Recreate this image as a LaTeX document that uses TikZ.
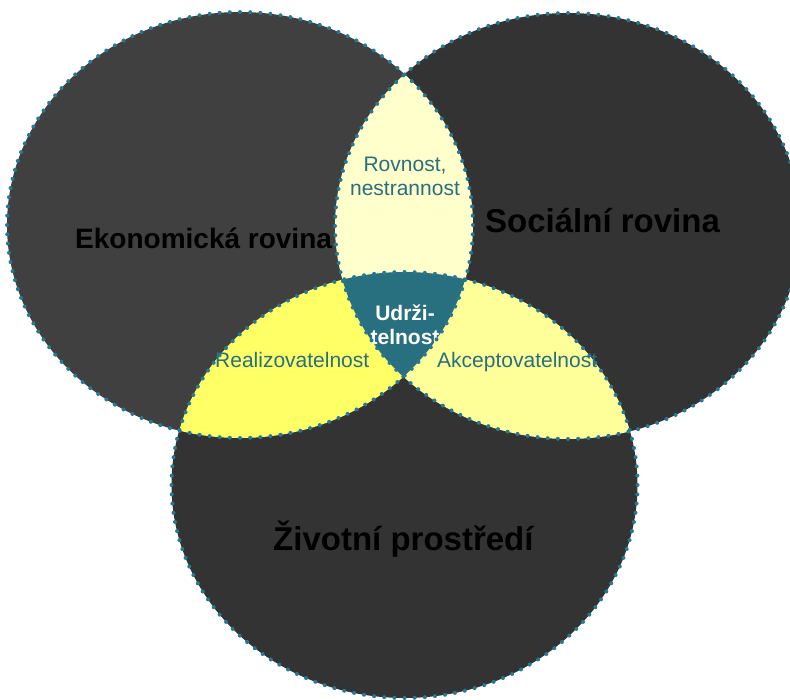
\documentclass[tikz,border=0pt]{standalone}
\usepackage{fontspec}
\setmainfont{Liberation Sans}
\usetikzlibrary{positioning}
\definecolor{darkA}{HTML}{404040}
\definecolor{darkB}{HTML}{333333}
\definecolor{tealc}{HTML}{286F80}
\definecolor{dotc}{HTML}{237A96}
\definecolor{yelL}{HTML}{FFFF66}
\definecolor{yelR}{HTML}{FFFF99}
\definecolor{yelT}{HTML}{FFFFCC}
\tikzstyle{bigtext} = [inner sep=0pt, text=black, font=\bfseries]
\tikzstyle{lenstext} = [inner sep=0pt, text=tealc, align=center, font=\fontsize{21}{24}\selectfont]
\newcommand{\ekonpath}{(240,225) ellipse [x radius=233pt, y radius=213pt]}
\newcommand{\socpath}{(568,226) ellipse [x radius=233pt, y radius=213pt]}
\newcommand{\zivpath}{(404.5,485) ellipse [x radius=233pt, y radius=213pt]}
% dotted rim of a plane centred at (#1,#2)
\newcommand{\dotrim}[2]{\foreach \a in {0,2.5,...,357.5} \fill [dotc] ({#1+233*cos(\a)},{#2+213*sin(\a)}) circle (2pt);}

\begin{document}
\begin{tikzpicture}[x=1pt, y=-1pt]
			\useasboundingbox (0,0) rectangle (790,699);
			% three planes
			\fill [darkA] \ekonpath;
			\fill [darkB] \socpath;
			\fill [darkB] \zivpath;
			
			\node [bigtext, anchor=base west, font=\fontsize{28}{30}\selectfont\bfseries] (ekon) at (75,248) {Ekonomická rovina};
			\node [bigtext, anchor=base west, font=\fontsize{33}{36}\selectfont\bfseries] (soc) at (485,232) {Sociální rovina};
			\node [bigtext, anchor=base west, font=\fontsize{33}{36}\selectfont\bfseries] (ziv) at (273,550) {Životní prostředí};
			
			% overlaps
			\begin{scope}
				\clip \ekonpath;
				\fill [yelT] \socpath;
				\fill [yelL] \zivpath;
				\clip \socpath;
				\fill [tealc] \zivpath;
			\end{scope}
			\node [lenstext, anchor=base, text=white, font=\fontsize{21}{24}\selectfont\bfseries] (udrz) at (405,344) {Udrži-\\telnost};
			\begin{scope}
				\clip \socpath;
				\clip \zivpath;
				\fill [yelR, even odd rule] (-50,-50) rectangle (850,750) \ekonpath;
			\end{scope}
			
			\dotrim{240}{225}
			\dotrim{568}{226}
			\dotrim{404.5}{485}
			
			\node [lenstext, anchor=base, font=\fontsize{21}{23.5}\selectfont] (rovnost) at (405,195) {Rovnost,\\nestrannost};
			\node [lenstext, anchor=base west] (realiz) at (215,367) {Realizovatelnost};
			\node [lenstext, anchor=base west] (akcept) at (437,367) {Akceptovatelnost};
		\end{tikzpicture}
\end{document}
